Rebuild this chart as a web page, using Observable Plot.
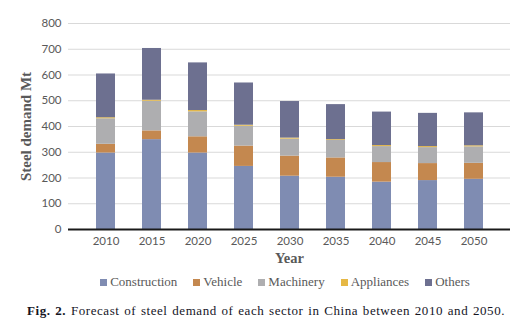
<!DOCTYPE html>
<html><head><meta charset="utf-8">
<script src="https://cdn.jsdelivr.net/npm/d3@7"></script>
<script src="https://cdn.jsdelivr.net/npm/@observablehq/plot@0.6"></script>
<style>
body{margin:0;background:#fff;width:517px;height:325px;overflow:hidden;position:relative}
#chart svg{display:block}
[aria-label="y-axis label"] text{font-family:"Liberation Serif",serif;font-weight:bold;font-size:15px;fill:#595959}
[aria-label="x-axis label"] text{font-family:"Liberation Serif",serif;font-weight:bold;font-size:14.5px;fill:#595959}
#legend{position:absolute;left:0;width:570px;top:273px;height:18px;line-height:18px;display:flex;justify-content:center;font-family:"Liberation Serif",serif;font-size:13px;color:#595959;white-space:nowrap}
#legend .item{display:flex;align-items:center;margin:0 8px}
#legend .sw{width:7px;height:7px;margin-right:3px}
#caption{position:absolute;left:27px;top:302px;line-height:18px;font-family:"Liberation Serif",serif;font-size:13px;letter-spacing:0.55px;word-spacing:1px;color:#15151f;white-space:nowrap}
</style></head><body>
<div id="chart"></div>
<div id="legend"></div>
<div id="caption"><b>Fig. 2.</b> Forecast of steel demand of each sector in China between 2010 and 2050.</div>
<script>
const years = ["2010","2015","2020","2025","2030","2035","2040","2045","2050"];
const sectors = ["Construction","Vehicle","Machinery","Appliances","Others"];
const construction = [297,349,297,245,207,203,184,190,195];
const vehicle      = [34,34,63,79,78,75,76,66,62];
const machinery    = [99,115,97,77,66,68,62,62,64];
const appliances   = [4,4,5,4,4,3,4,4,4];
const others       = [170,201,185,164,142,136,130,129,128];
const colors = ["#7f8cb2","#c4884f","#aeaeb0","#e6b845","#6d7090"];
const yTicks = [0,100,200,300,400,500,600,700,800];

const series = [construction, vehicle, machinery, appliances, others];
const data = [];
years.forEach((yr, i) => sectors.forEach((s, j) => data.push({year: yr, sector: s, value: series[j][i]})));

const chart = Plot.plot({
  width: 517, height: 265,
  marginLeft: 68, marginRight: 7, marginTop: 23, marginBottom: 36,
  style: {fontFamily: "Lato, sans-serif", fontSize: "11.5px", color: "#595959", background: "#fff"},
  x: {domain: years, padding: 0.59, label: null},
  y: {domain: [0, 800], label: null},
  color: {domain: sectors, range: colors},
  marks: [
    Plot.ruleY(yTicks.slice(1), {stroke: "#d9d9d9", strokeWidth: 1}),
    Plot.barY(data, {x: "year", y: "value", fill: "sector", order: sectors}),
    Plot.axisY({ticks: yTicks, tickSize: 0, tickPadding: 7, label: "Steel demand Mt", labelAnchor: "center", labelArrow: "none", labelOffset: 48}),
    Plot.axisX({tickSize: 0, tickPadding: 7, label: "Year", labelAnchor: "center", labelArrow: "none", labelOffset: 33}),
    Plot.ruleX([0], {x: () => 0, frameAnchor: "left", stroke: "#1a1a1a", strokeWidth: 2}),
    Plot.ruleY([0], {stroke: "#1a1a1a", strokeWidth: 2})
  ]
});
document.getElementById("chart").appendChild(chart);

const legend = document.getElementById("legend");
sectors.forEach((s, j) => {
  const it = document.createElement("div"); it.className = "item";
  const sw = document.createElement("span"); sw.className = "sw"; sw.style.background = colors[j];
  const t = document.createElement("span"); t.textContent = s;
  it.appendChild(sw); it.appendChild(t); legend.appendChild(it);
});
</script></body></html>
